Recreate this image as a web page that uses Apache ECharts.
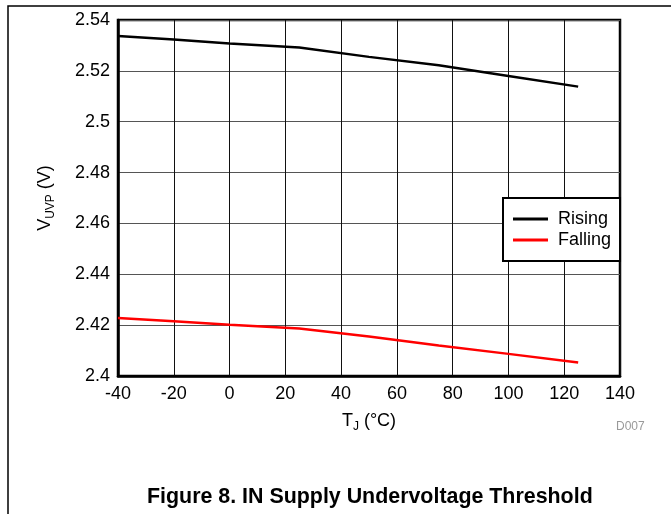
<!DOCTYPE html>
<html>
<head>
<meta charset="utf-8">
<script src="https://cdn.jsdelivr.net/npm/echarts@6/dist/echarts.min.js"></script>
<style>html,body{margin:0;padding:0;background:#fff}#c{width:671px;height:514px}</style>
</head>
<body>
<div id="c"></div>
<script>
var temps = [-40, -20, 0, 25, 50, 75, 100, 125];
var rising = [2.5337, 2.5323, 2.5308, 2.5292, 2.5255, 2.5222, 2.5180, 2.5138];
var falling = [2.4228, 2.4215, 2.4202, 2.4187, 2.4155, 2.4120, 2.4087, 2.4053];
var seriesNames = ['Rising', 'Falling'];

function pairs(xs, ys) { return xs.map(function (x, i) { return [x, ys[i]]; }); }

var chart = echarts.init(document.getElementById('c'), null, {renderer: 'canvas'});
var font = 'Liberation Sans, Arial, sans-serif';
chart.setOption({
  animation: false,
  backgroundColor: '#fff',
  textStyle: {fontFamily: font},
  title: {
    text: 'Figure 8. IN Supply Undervoltage Threshold',
    left: 147, top: 487, padding: 0,
    textStyle: {fontFamily: font, fontSize: 21.4, fontWeight: 'bold', color: '#000'}
  },
  graphic: [
    {type: 'rect', shape: {x: 8, y: 6, width: 700, height: 600}, style: {fill: 'none', stroke: '#000', lineWidth: 1.5}, silent: true},
    {type: 'text', left: 616, top: 421, style: {text: 'D007', fill: '#999', font: '12px ' + font}}
  ],
  grid: {left: 118, right: 51, top: 20, bottom: 138, show: true, borderColor: '#000', borderWidth: 2.5},
  legend: {
    data: seriesNames,
    orient: 'vertical',
    left: 503, top: 198,
    padding: [12, 9, 12, 10],
    itemGap: 3,
    itemWidth: 35, itemHeight: 3,
    borderColor: '#000', borderWidth: 2,
    backgroundColor: '#fff',
    icon: 'rect',
    textStyle: {fontFamily: font, fontSize: 18, color: '#000', padding: [0, 0, 0, 5]}
  },
  xAxis: {
    type: 'value', min: -40, max: 140, interval: 20,
    name: 'T{sub|J} (°C)', nameLocation: 'middle', nameGap: 34,
    nameTextStyle: {fontFamily: font, fontSize: 18, color: '#000',
      rich: {sub: {fontSize: 12, verticalAlign: 'bottom', padding: [11, 0, 0, 0], fontFamily: font, color: '#000'}}},
    axisLine: {show: true, onZero: false, lineStyle: {color: '#000', width: 2.5}},
    axisTick: {show: false},
    axisLabel: {fontFamily: font, fontSize: 18, color: '#000', margin: 9},
    splitLine: {show: true, lineStyle: {color: '#111', width: 1}}
  },
  yAxis: {
    type: 'value', min: 2.4, max: 2.54, interval: 0.02,
    name: 'V{sub|UVP} (V)', nameLocation: 'middle', nameRotate: 90, nameGap: 61,
    nameTextStyle: {fontFamily: font, fontSize: 18, color: '#000',
      rich: {sub: {fontSize: 12, verticalAlign: 'bottom', padding: [11, 0, 0, 0], fontFamily: font, color: '#000'}}},
    axisLine: {show: true, onZero: false, lineStyle: {color: '#000', width: 2.5}},
    axisTick: {show: false},
    axisLabel: {fontFamily: font, fontSize: 18, color: '#000', margin: 8},
    splitLine: {show: true, lineStyle: {color: '#555', width: 1}}
  },
  series: [
    {name: seriesNames[0], type: 'line', data: pairs(temps, rising), showSymbol: false, symbol: 'none',
      lineStyle: {color: '#000', width: 2.5}, itemStyle: {color: '#000'}},
    {name: seriesNames[1], type: 'line', data: pairs(temps, falling), showSymbol: false, symbol: 'none',
      lineStyle: {color: '#ff0000', width: 2.5}, itemStyle: {color: '#ff0000'}}
  ]
});
</script>
</body>
</html>
